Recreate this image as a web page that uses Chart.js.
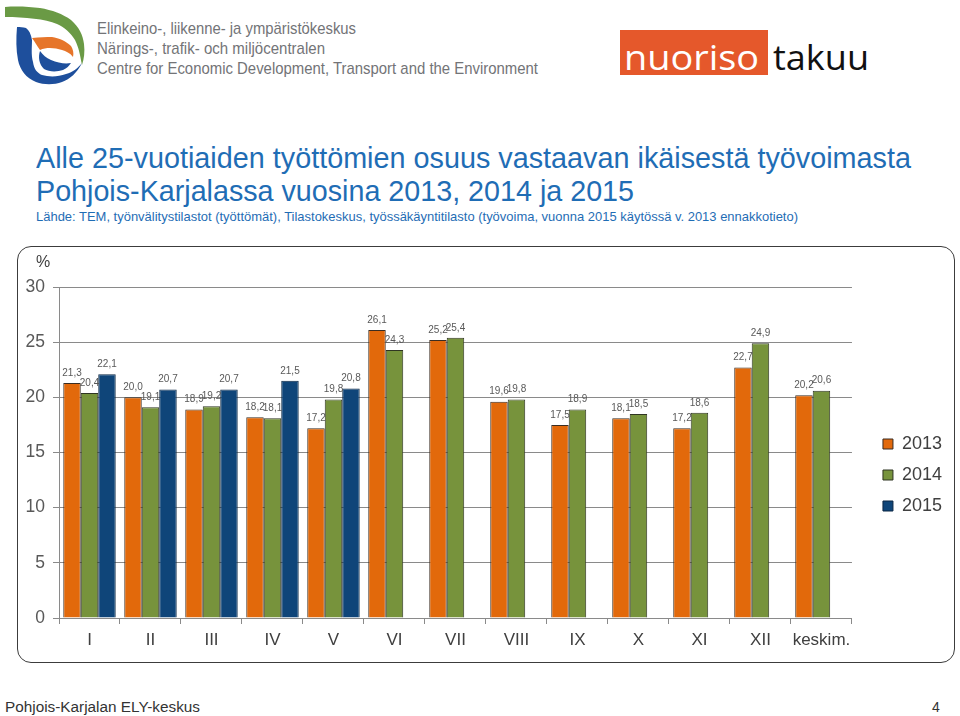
<!DOCTYPE html>
<html>
<head>
<meta charset="utf-8">
<script src="https://cdn.jsdelivr.net/npm/chart.js@4/dist/chart.umd.min.js"></script>
<style>
  html, body { margin:0; padding:0; background:#fff; }
  body { width:960px; height:716px; position:relative; overflow:hidden; font-family:'Liberation Sans', Arial, sans-serif; }
  .abs { position:absolute; white-space:nowrap; transform-origin:0 0; }
  .ely { font-size:17px; line-height:17px; color:#737477; left:97px; }
  .title { font-size:29.5px; line-height:29.5px; color:#1f6db5; left:36px; }
  .sub { font-size:13px; line-height:13px; color:#1f6db5; left:36px; }
  #frame { position:absolute; left:17px; top:246px; width:936px; height:415px; border:1.4px solid #3c3c3c; border-radius:14px; }
  #wrap { position:absolute; left:18px; top:247px; width:937px; height:416px; }
</style>
</head>
<body>
<svg class="abs" style="left:0;top:0" width="95" height="95" viewBox="0 0 95 95">
  <path d="M5,7 C18,6 30,7 40,8 C52,10 63,14 71,20 C79,27 83,35 84,44 C85,52 84,59 82,65 C80,55 79,48 75,40 C71,33 64,27 57,24 C45,19 25,17 5,17 Z" fill="#6a9a45"/>
  <path d="M32,38 C40,37 46,37 52,37 C59,38 66,41 71,46 C73,49 74,53 73,57 C70,53 66,51 62,50 C55,48 47,47 40,50 C37,46 35,42 32,38 Z" fill="#e6752a"/>
  <path d="M17,27 C16,38 16,50 18,60 C20,70 26,78 36,82 C44,85 54,85 62,82 C70,79 77,73 82,63 C78,68 73,72 66,74 C58,77 49,77 42,75 C37,73 34,69 33,62 C31,55 32,47 32,40 C31,34 29,30 26,28 C23,27 20,27 17,27 Z" fill="#1e4f9c"/>
  <path d="M40,51 C38,57 39,64 44,69 C49,72 57,72 63,70 C67,68 69,66 71,63 C65,64 58,63 51,60 C46,58 43,55 40,51 Z" fill="#1e4f9c"/>
</svg>
<div class="abs ely" data-w="259" style="top:20px">Elinkeino-, liikenne- ja ympäristökeskus</div>
<div class="abs ely" data-w="228" style="top:39.5px">Närings-, trafik- och miljöcentralen</div>
<div class="abs ely" data-w="441" style="top:59.5px">Centre for Economic Development, Transport and the Environment</div>

<div class="abs" style="left:620px;top:30px;width:148px;height:45px;background:#e5582b;"></div>
<div class="abs" data-w="135" style="left:624px;top:40px;font-family:'Open Sans',sans-serif;font-size:34px;line-height:34px;color:#fff;">nuoriso</div>
<div class="abs" data-w="96" style="left:773px;top:40px;font-family:'Open Sans',sans-serif;font-size:34px;line-height:34px;color:#111;">takuu</div>

<div class="abs title" data-w="875" style="top:143px">Alle 25-vuotiaiden työttömien osuus vastaavan ikäisestä työvoimasta</div>
<div class="abs title" data-w="598" style="top:176px">Pohjois-Karjalassa vuosina 2013, 2014 ja 2015</div>
<div class="abs sub" data-w="762" style="top:210px">Lähde: TEM, työnvälitystilastot (työttömät), Tilastokeskus, työssäkäyntitilasto (työvoima, vuonna 2015 käytössä v. 2013 ennakkotieto)</div>

<div id="frame"></div>
<div id="wrap"><canvas id="c" width="937" height="416"></canvas></div>
<div class="abs" style="left:36px;top:254px;font-size:16px;line-height:16px;color:#404040;">%</div>

<div class="abs" data-w="195" style="left:5px;top:700px;font-size:14px;line-height:14px;color:#333;">Pohjois-Karjalan ELY-keskus</div>
<div class="abs" style="left:932px;top:700px;font-size:14px;line-height:14px;color:#333;">4</div>

<script>
// ---- data ----
const categories = ['I','II','III','IV','V','VI','VII','VIII','IX','X','XI','XII','keskim.'];
const seriesNames = ['2013','2014','2015'];
const values2013 = [21.3, 20.0, 18.9, 18.2, 17.2, 26.1, 25.2, 19.6, 17.5, 18.1, 17.2, 22.7, 20.2];
const values2014 = [20.4, 19.1, 19.2, 18.1, 19.8, 24.3, 25.4, 19.8, 18.9, 18.5, 18.6, 24.9, 20.6];
const values2015 = [22.1, 20.7, 20.7, 21.5, 20.8, null, null, null, null, null, null, null, null];
const yTicks = [0, 5, 10, 15, 20, 25, 30];

// fit text widths
document.querySelectorAll('[data-w]').forEach(el => {
  const target = parseFloat(el.getAttribute('data-w'));
  const w = el.getBoundingClientRect().width;
  if (w > 0) el.style.transform = 'scaleX(' + (target / w) + ')';
});

const labelPlugin = {
  id: 'valueLabels',
  afterDatasetsDraw(chart) {
    const ctx = chart.ctx;
    ctx.save();
    ctx.font = '10px "Liberation Sans", Arial, sans-serif';
    ctx.fillStyle = '#595959';
    ctx.textAlign = 'center';
    ctx.textBaseline = 'bottom';
    chart.data.datasets.forEach((ds, di) => {
      const meta = chart.getDatasetMeta(di);
      meta.data.forEach((el, i) => {
        const v = ds.data[i];
        if (v === null || v === undefined) return;
        ctx.fillText(v.toFixed(1).replace('.', ','), el.x, el.y - 5);
      });
    });
    ctx.restore();
  }
};

Chart.defaults.font.family = '"Liberation Sans", Arial, sans-serif';

new Chart(document.getElementById('c'), {
  type: 'bar',
  data: {
    labels: categories,
    datasets: [
      { label: seriesNames[0], data: values2013, backgroundColor: '#e2690b', borderColor: '#3a2d22', borderWidth: 1 },
      { label: seriesNames[1], data: values2014, backgroundColor: '#77933c', borderColor: '#2f3522', borderWidth: 1 },
      { label: seriesNames[2], data: values2015, backgroundColor: '#0f4579', borderColor: '#0b2744', borderWidth: 1 }
    ]
  },
  options: {
    responsive: false,
    animation: false,
    layout: { padding: { left: 0, right: 3, top: 40, bottom: 0 } },
    datasets: { bar: { categoryPercentage: 0.86, barPercentage: 1 } },
    plugins: {
      tooltip: { enabled: false },
      legend: {
        position: 'right',
        align: 'center',
        labels: { boxWidth: 10, boxHeight: 10, padding: 13, color: '#404040', font: { size: 18 } }
      }
    },
    scales: {
      x: {
        grid: { display: true, drawOnChartArea: false, drawTicks: true, tickLength: 6, color: '#8a8a8a', offset: true },
        border: { color: '#8a8a8a' },
        ticks: { color: '#404040', font: { size: 17 }, padding: 6, maxRotation: 0, autoSkip: false },
        afterFit: s => { s.height = 45; }
      },
      y: {
        min: 0, max: 30,
        afterBuildTicks: s => { s.ticks = yTicks.map(v => ({ value: v })); },
        ticks: { color: '#595959', font: { size: 17.5 }, padding: 8 },
        grid: { color: '#8a8a8a', tickLength: 6 },
        border: { color: '#8a8a8a' },
        afterFit: s => { s.width = 41; }
      },
      yR: {
        position: 'right', display: true,
        grid: { display: false }, ticks: { display: false }, border: { display: false },
        afterFit: s => { s.width = 18; }
      }
    }
  },
  plugins: [labelPlugin]
});
</script>
</body>
</html>
